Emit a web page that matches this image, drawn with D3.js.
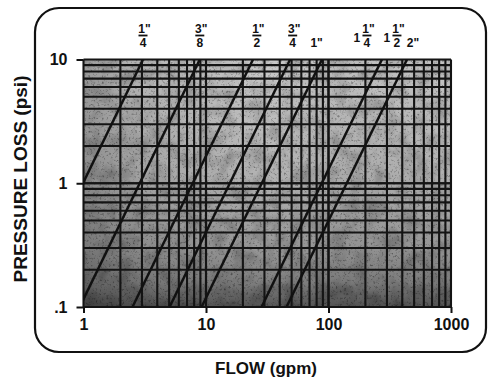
<!DOCTYPE html>
<html>
<head>
<meta charset="utf-8">
<script src="https://cdn.jsdelivr.net/npm/d3@7"></script>
<style>
  html, body { margin: 0; padding: 0; background: #fff; }
  svg { display: block; }
  text { font-family: "Liberation Sans", Arial, Helvetica, sans-serif; font-weight: bold; fill: #111; }
</style>
</head>
<body>
<svg id="chart" width="489" height="381"></svg>
<script>
// Pipe size labels along the top (whole part, fraction numerator, fraction denominator)
const sizeWhole = ["", "", "", "", "1\"", "1", "1", "2\""];
const sizeNum   = ["1\"", "3\"", "1\"", "3\"", "", "1\"", "1\"", ""];
const sizeDen   = ["4", "8", "2", "4", "", "4", "2", ""];
// Flow (gpm) at which each size label sits along the 10 psi edge
const labelFlow = [3.06, 8.9, 26, 51, 80, 206, 362, 490];

// Pressure-loss lines: flow (gpm) at 10 psi and at 0.1 psi
const lineSize     = ["1/4", "3/8", "1/2", "3/4", "1", "1 1/4", "1 1/2"];
const flowAt10psi  = [3.06, 8.9, 24.2, 48.6, 88.5, 273, 437];
const flowAt01psi  = [0.32, 0.93, 2.51, 5.04, 9.2, 28.4, 45.4];

// Axis ranges and tick labels
const flowDomain = [1, 1000];
const lossDomain = [0.1, 10];
const flowTicks = [1, 10, 100, 1000];
const flowTickLabels = ["1", "10", "100", "1000"];
const lossTicks = [0.1, 1, 10];
const lossTickLabels = [".1", "1", "10"];

const svg = d3.select("#chart");
const plot = { left: 83.5, right: 451, top: 59.5, bottom: 307 };

const x = d3.scaleLog().domain(flowDomain).range([plot.left, plot.right]);
const y = d3.scaleLog().domain(lossDomain).range([plot.bottom, plot.top]);

const defs = svg.append("defs");
defs.append("clipPath").attr("id", "plotClip")
  .append("rect")
  .attr("x", plot.left).attr("y", plot.top)
  .attr("width", plot.right - plot.left).attr("height", plot.bottom - plot.top);

// Shaded paper tone of the plotting field
const vg = defs.append("linearGradient").attr("id", "fieldV")
  .attr("x1", 0).attr("y1", 0).attr("x2", 0).attr("y2", 1);
[[0, "#c9c9c9"], [0.45, "#b4b4b4"], [0.75, "#9a9a9a"], [0.9, "#808080"], [1, "#555"]]
  .forEach(([o, c]) => vg.append("stop").attr("offset", o).attr("stop-color", c));
const hg = defs.append("linearGradient").attr("id", "fieldH")
  .attr("x1", 0).attr("y1", 0).attr("x2", 1).attr("y2", 0);
[[0, "#000", 0.22], [0.18, "#000", 0.08], [0.5, "#000", 0], [0.7, "#000", 0.05], [1, "#000", 0.02]]
  .forEach(([o, c, a]) => hg.append("stop").attr("offset", o).attr("stop-color", c).attr("stop-opacity", a));

function noiseFilter(id, freq, seed, slope, icpt) {
  const f = defs.append("filter").attr("id", id)
    .attr("x", 0).attr("y", 0).attr("width", 1).attr("height", 1);
  f.append("feTurbulence").attr("type", "fractalNoise")
    .attr("baseFrequency", freq).attr("numOctaves", 3).attr("seed", seed);
  f.append("feColorMatrix").attr("type", "matrix")
    .attr("values", `0 0 0 0 0  0 0 0 0 0  0 0 0 0 0  0 0 0 ${slope} ${icpt}`);
}
noiseFilter("mottle", 0.06, 7, -1.6, 0.95);
noiseFilter("speck", 0.45, 3, -3.5, 1.55);

const field = svg.append("g").attr("clip-path", "url(#plotClip)");
const fieldRect = (fill, filter, opacity) => field.append("rect")
  .attr("x", plot.left).attr("y", plot.top)
  .attr("width", plot.right - plot.left).attr("height", plot.bottom - plot.top)
  .attr("fill", fill).attr("filter", filter).attr("opacity", opacity);
fieldRect("url(#fieldV)", null, 1);
fieldRect("url(#fieldH)", null, 1);
fieldRect("#000", "url(#mottle)", 0.3);
fieldRect("#000", "url(#speck)", 0.35);

// Log grid: every unit step within each decade
const xGrid = [];
for (let d = 1; d < 1000; d *= 10) for (let k = 1; k <= 10; k++) xGrid.push(d * k);
const yGrid = [];
for (let d = 0.1; d < 9.9; d *= 10) for (let k = 1; k <= 10; k++) yGrid.push(+(d * k).toPrecision(3));

const grid = svg.append("g").attr("stroke", "#141414").attr("stroke-width", 2.1);
grid.selectAll(".gx").data(xGrid).join("line")
  .attr("x1", d => x(d)).attr("x2", d => x(d))
  .attr("y1", plot.top).attr("y2", plot.bottom);
grid.selectAll(".gy").data(yGrid).join("line")
  .attr("x1", plot.left).attr("x2", plot.right)
  .attr("y1", d => y(d)).attr("y2", d => y(d));

// Pressure-loss line for each pipe size
const lines = svg.append("g").attr("clip-path", "url(#plotClip)");
lines.selectAll("line").data(lineSize).join("line")
  .attr("x1", (d, i) => x(flowAt01psi[i])).attr("y1", y(0.1))
  .attr("x2", (d, i) => x(flowAt10psi[i])).attr("y2", y(10))
  .attr("stroke", "#111").attr("stroke-width", 2.5);

// Axes
const yAxis = d3.axisLeft(y).tickValues(lossTicks).tickFormat((d, i) => lossTickLabels[i])
  .tickSize(7).tickPadding(9);
const gy = svg.append("g").attr("transform", `translate(${plot.left},0)`).call(yAxis);
gy.select(".domain").remove();
gy.selectAll(".tick line").attr("stroke", "#111").attr("stroke-width", 2);
gy.selectAll(".tick text").attr("font-size", 16).attr("fill", "#111")
  .attr("font-family", "Liberation Sans, Arial, sans-serif").attr("font-weight", "bold");

const xAxis = d3.axisBottom(x).tickValues(flowTicks).tickFormat((d, i) => flowTickLabels[i])
  .tickSize(6).tickPadding(6);
const gx = svg.append("g").attr("transform", `translate(0,${plot.bottom})`).call(xAxis);
gx.select(".domain").remove();
gx.selectAll(".tick line").attr("stroke", "#111").attr("stroke-width", 2);
gx.selectAll(".tick text").attr("font-size", 16).attr("fill", "#111")
  .attr("font-family", "Liberation Sans, Arial, sans-serif").attr("font-weight", "bold");

// Pipe size labels along the 10 psi edge
const lab = svg.append("g").attr("font-size", 12);
labelFlow.forEach((q, i) => {
  const cx = x(q);
  const g = lab.append("g");
  if (sizeDen[i]) {
    if (sizeWhole[i]) {
      g.append("text").attr("x", cx - 10).attr("y", 42).attr("text-anchor", "middle").text(sizeWhole[i]);
    }
    g.append("text").attr("x", cx + 1.5).attr("y", 33).attr("text-anchor", "middle").text(sizeNum[i]);
    g.append("line").attr("x1", cx - 4.5).attr("x2", cx + 4.5).attr("y1", 35.5).attr("y2", 35.5)
      .attr("stroke", "#111").attr("stroke-width", 1.8);
    g.append("text").attr("x", cx).attr("y", 47).attr("text-anchor", "middle").text(sizeDen[i]);
  } else {
    g.append("text").attr("x", cx).attr("y", 47).attr("text-anchor", "middle").text(sizeWhole[i]);
  }
});

// Axis titles
svg.append("text").attr("x", 266).attr("y", 374).attr("text-anchor", "middle")
  .attr("font-size", 17).text("FLOW (gpm)");
svg.append("text").attr("transform", "translate(27,179) rotate(-90)").attr("text-anchor", "middle")
  .attr("font-size", 19).text("PRESSURE LOSS (psi)");

// Rounded frame around the chart
svg.append("rect").attr("x", 35).attr("y", 8).attr("width", 451).attr("height", 344)
  .attr("rx", 24).attr("fill", "none").attr("stroke", "#111").attr("stroke-width", 2.2);
</script>
</body>
</html>
